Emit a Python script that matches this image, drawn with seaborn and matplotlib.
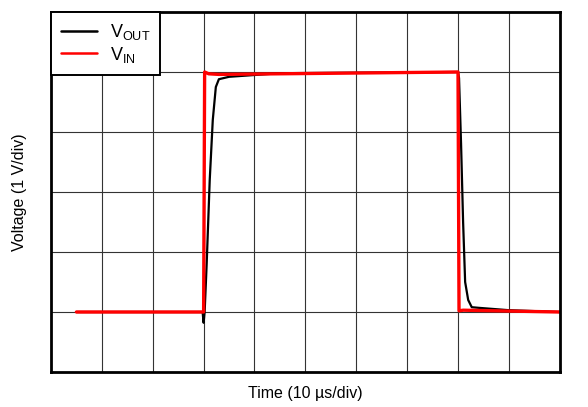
import numpy as np
import pandas as pd
import matplotlib
matplotlib.use("Agg")
import matplotlib.pyplot as plt
import seaborn as sns
from matplotlib.lines import Line2D

# ── Datos (tiempo y tensión en divisiones) ─────────────────────
t_vin = [0.5, 3.0, 3.02, 3.1, 3.3, 8.0, 8.02, 8.1, 10.0]
v_vin = [1.0, 1.0, 5.0, 4.97, 4.96, 5.0, 1.02, 1.03, 1.0]

t_vout = [0.5, 2.98, 3.0, 3.02, 3.06, 3.12, 3.18, 3.24, 3.3, 3.5, 4.5, 8.0,
          8.02, 8.06, 8.1, 8.14, 8.2, 8.27, 8.4, 9.0, 10.0]
v_vout = [1.0, 1.0, 0.82, 1.0, 1.8, 3.2, 4.2, 4.75, 4.88, 4.92, 4.98, 5.0,
          4.9, 3.8, 2.5, 1.5, 1.2, 1.08, 1.07, 1.03, 1.0]

x_divs = list(range(1, 10))
y_divs = list(range(1, 6))

df = pd.concat([
    pd.DataFrame({"t": t_vout, "v": v_vout, "senal": "VOUT"}),
    pd.DataFrame({"t": t_vin, "v": v_vin, "senal": "VIN"}),
])

# ── Estilo ─────────────────────────────────────────────────────
sns.set_style("white")
plt.rcParams["font.family"] = ["Liberation Sans", "DejaVu Sans"]
plt.rcParams["mathtext.fontset"] = "custom"
plt.rcParams["mathtext.rm"] = "Liberation Sans"
plt.rcParams["mathtext.it"] = "Liberation Sans"
plt.rcParams["text.color"] = "black"
plt.rcParams["axes.labelcolor"] = "black"

fig = plt.figure(figsize=(5.88, 4.07), dpi=100)
ax = fig.add_axes([0.0867, 0.086, 0.8653, 0.8845])

for x in x_divs:
    ax.axvline(x, color="0.2", lw=0.8, zorder=0)
for y in y_divs:
    ax.axhline(y, color="0.2", lw=0.8, zorder=0)

sns.lineplot(data=df, x="t", y="v", hue="senal", sort=False, estimator=None,
             palette={"VOUT": "black", "VIN": "#ff0000"}, size="senal",
             sizes={"VOUT": 1.6, "VIN": 2.4}, ax=ax, legend=False)

ax.set_xlim(0, 10)
ax.set_ylim(0, 6)
ax.set_xticks([])
ax.set_yticks([])
for s in ax.spines.values():
    s.set_linewidth(2.0)
    s.set_color("black")

ax.set_xlabel("Time (10 µs/div)", fontsize=11.5, labelpad=10)
ax.set_ylabel("Voltage (1 V/div)", fontsize=11.5, labelpad=17)

handles = [Line2D([], [], color="black", lw=1.8),
           Line2D([], [], color="#ff0000", lw=1.8)]
leg = ax.legend(handles, [r"V$_{\mathrm{OUT}}$", r"V$_{\mathrm{IN}}$"],
                loc="upper left", borderaxespad=0, fontsize=13,
                fancybox=False, framealpha=1, edgecolor="black",
                handlelength=2.0, labelspacing=0.15, borderpad=0.55,
                handletextpad=0.7)
leg.get_frame().set_linewidth(1.4)

fig.savefig("out.png", dpi=100)
